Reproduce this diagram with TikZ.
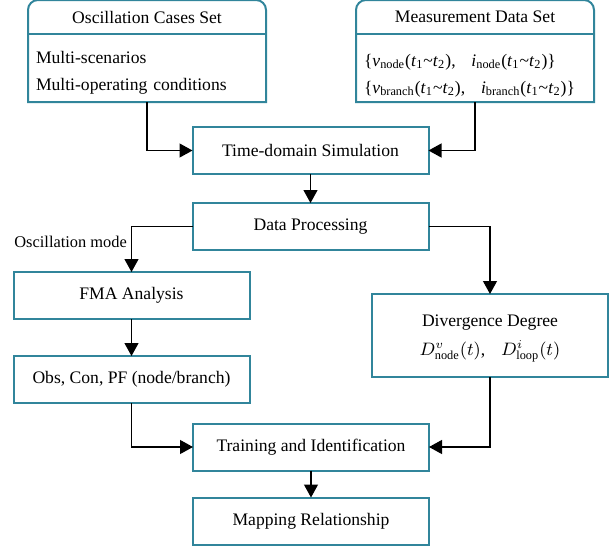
\documentclass[tikz,border=0pt]{standalone}
\usepackage{fontspec}
\setmainfont{Liberation Serif}
\usetikzlibrary{arrows.meta, positioning}
\definecolor{frameteal}{RGB}{49,133,155}

% a measured quantity over the window t1~t2
\newcommand{\meas}[2]{\textit{#1}\textsubscript{#2}(\textit{t}\textsubscript{1}\textasciitilde\textit{t}\textsubscript{2})}

\tikzset{
  blockbox/.style={draw=frameteal, line width=1pt, minimum width=118pt, minimum height=23.5pt,
    inner sep=0pt, outer sep=0pt, align=center, font=\fontsize{8.8}{14.5}\selectfont},
  headbox/.style={minimum width=119pt, minimum height=17pt, inner sep=0pt, outer sep=0pt,
    font=\fontsize{8.8}{10.5}\selectfont},
  listbox/.style={minimum width=119pt, minimum height=34pt, inner sep=0pt, outer sep=0pt,
    text width=111pt, align=left, font=\fontsize{8.8}{13.5}\selectfont},
  flow/.style={-{Triangle[length=6.5pt,width=7pt]}, line width=0.6pt},
}

\begin{document}
\begin{tikzpicture}[x=0.5pt, y=-0.5pt]
\useasboundingbox (0,0) rectangle (616,547);

% Input sets (two-part boxes with rounded top)
\node[headbox] (hdrL) at (147,17) {Oscillation Cases Set};
\node[listbox] (bodyL) at (147,68) {\rule{0pt}{11pt}Multi-scenarios\\Multi-operating conditions};
\node[headbox] (hdrR) at (475,17) {Measurement Data Set};
\node[listbox] (bodyR) at (475,68) {\rule{0pt}{14pt}\{\meas{v}{node},\hspace{0.9em}\meas{i}{node}\}\\
  \{\meas{v}{branch},\hspace{0.9em}\meas{i}{branch}\}};
\foreach \s in {L,R} {
  \draw[frameteal, line width=1pt] (body\s.south west) [rounded corners=5pt] -- (hdr\s.north west)
    -- (hdr\s.north east) [sharp corners] -- (body\s.south east) -- cycle;
  \draw[frameteal, line width=1pt] (hdr\s.south west) -- (hdr\s.south east);
}

% Main flow
\node[blockbox] (sim) at (310.5,150.5) {Time-domain Simulation};
\node[blockbox] (proc) at (310.5,226.5) {Data Processing};
\node[blockbox] (fma) at (131.5,295.5) {FMA Analysis};
\node[blockbox] (obs) at (131.5,379.5) {Obs, Con, PF (node/branch)};
\node[blockbox, minimum height=41.5pt, text depth=-3pt] (div) at (490,335.5)
  {Divergence Degree\\$D^{v}_{\mathrm{node}}(t)$,\hspace{0.9em}$D^{i}_{\mathrm{loop}}(t)$};
\node[blockbox] (train) at (311,447) {Training and Identification};
\node[blockbox] (map) at (311,521) {Mapping Relationship};

% Connectors
\draw[flow] (bodyL.south) |- (sim.west);
\draw[flow] (bodyR.south) |- (sim.east);
\draw[flow] (sim) -- (proc);
\draw[flow] (proc.west) -| node[pos=0.667, left, inner sep=2pt,
  font=\fontsize{8.2}{10}\selectfont] (modelabel) {Oscillation mode} (fma.north);
\draw[flow] (proc.east) -| (div.north);
\draw[flow] (fma) -- (obs);
\draw[flow] (obs.south) |- (train.west);
\draw[flow] (div.south) |- (train.east);
\draw[flow] (train) -- (map);
\end{tikzpicture}
\end{document}
